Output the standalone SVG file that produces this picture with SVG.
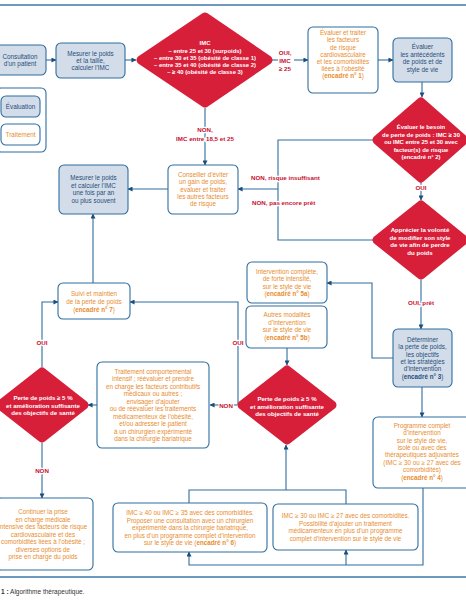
<svg xmlns="http://www.w3.org/2000/svg" width="466" height="600" viewBox="0 0 466 600">
<defs>
<marker id="ah" viewBox="0 0 6 6" refX="5.5" refY="3" markerWidth="5" markerHeight="5" orient="auto" markerUnits="userSpaceOnUse">
<path d="M0,0 L6,3 L0,6 z" fill="#1d4f7c"/>
</marker>
<style>
.box{fill:#fff;stroke:#2f6d9f;stroke-width:1.1}
.ev{fill:#d3dde9}
.dia{fill:#d71f3a;stroke:#d71f3a;stroke-width:9;stroke-linejoin:round}
text{font-family:"Liberation Sans",Arial,sans-serif;font-size:6.3px;text-anchor:middle}
.tb{fill:#1f4d7a}
.to{fill:#e98c2c}
.tw{fill:#fff;font-weight:bold;font-size:6.1px}
.tw1{font-size:5.9px}
.b{font-weight:bold}
.lbl{fill:#c8102e;font-weight:bold;font-size:6.2px;stroke:#fff;stroke-width:2.5;paint-order:stroke}
.conn{stroke:#2f6d9f;stroke-width:1.1;fill:none}
.arr{marker-end:url(#ah)}
.rule{stroke:#3d77a8;stroke-width:1.4}
</style>
</defs>
<rect width="466" height="600" fill="#fff"/>
<line class="rule" x1="0" y1="5" x2="466" y2="5"/>
<line class="rule" x1="0" y1="577" x2="466" y2="577"/>

<g id="connectors">
<path class="conn arr" d="M46,60 H56"/>
<path class="conn arr" d="M125,60 H136"/>
<path class="conn" d="M272,60 H278"/>
<path class="conn arr" d="M294,60 H308"/>
<path class="conn arr" d="M378,60 H393"/>
<path class="conn arr" d="M422,82 H422 V97"/>
<path class="conn arr" d="M205,108 V165"/>
<path class="conn arr" d="M168,189 H128"/>
<path class="conn" d="M373,140 H278 V240 H373"/>
<path class="conn arr" d="M278,189 H238"/>
<path class="conn arr" d="M421,182 V200"/>
<path class="conn arr" d="M421,280 V329"/>
<path class="conn arr" d="M393,358 H372 V283 H327"/>
<path class="conn arr" d="M287,348 V365"/>
<path class="conn arr" d="M237,405 H210"/>
<path class="conn arr" d="M238,405 V302 H130"/>
<path class="conn arr" d="M93,283 V214"/>
<path class="conn arr" d="M97,405 H88"/>
<path class="conn arr" d="M42,367 V302 H58"/>
<path class="conn arr" d="M42,443 V498"/>
<path class="conn arr" d="M422,387 V417"/>
<path class="conn arr" d="M423,488 V565 H189 V552"/>
<path class="conn arr" d="M346,565 V550"/>
<path class="conn" d="M189,503 V490 H346 V504"/>
<path class="conn arr" d="M286,490 V445"/>
<text class="lbl" x="285" y="55">OUI,</text>
<text class="lbl" x="285" y="62.5">IMC</text>
<text class="lbl" x="285" y="71">≥ 25</text>
<text class="lbl" x="205" y="132">NON,</text>
<text class="lbl" x="205" y="140.5">IMC entre 18,5 et 25</text>
<text class="lbl" x="251" y="180" style="text-anchor:start">NON, risque insuffisant</text>
<text class="lbl" x="252" y="205" style="text-anchor:start">NON, pas encore prêt</text>
<text class="lbl" x="421" y="189.5">OUI</text>
<text class="lbl" x="421" y="305">OUI, prêt</text>
<text class="lbl" x="226" y="408">NON</text>
<text class="lbl" x="238" y="345">OUI</text>
<text class="lbl" x="42" y="345">OUI</text>
<text class="lbl" x="42" y="473">NON</text>
</g>

<g id="legend">
<rect class="box" x="-4" y="88" width="50" height="64" rx="5"/>
<rect class="box ev" x="1" y="96" width="39" height="21" rx="5"/>
<text class="tb" x="20.5" y="108.5">Évaluation</text>
<rect class="box" x="1" y="124" width="39" height="21" rx="5"/>
<text class="to" x="20.5" y="136.5">Traitement</text>
</g>

<g id="n-consultation">
<rect class="box ev" x="-6" y="45" width="52" height="30" rx="5"/>
<text class="tb" x="20" y="59">Consultation</text>
<text class="tb" x="20" y="66">d’un patient</text>
</g>

<g id="n-mesurer1">
<rect class="box ev" x="56" y="43" width="69" height="35" rx="5"/>
<text class="tb" x="90.5" y="55.5">Mesurer le poids</text>
<text class="tb" x="90.5" y="62.5">et la taille,</text>
<text class="tb" x="90.5" y="70">calculer l’IMC</text>
</g>

<g id="d-imc">
<polygon class="dia" points="205,17 268,60 205,103 141,60"/>
<text class="tw tw1" x="205" y="45">IMC</text>
<text class="tw tw1" x="205" y="53">– entre 25 et 30 (surpoids)</text>
<text class="tw tw1" x="205" y="60">– entre 30 et 35 (obésité de classe 1)</text>
<text class="tw tw1" x="205" y="67">– entre 35 et 40 (obésité de classe 2)</text>
<text class="tw tw1" x="205" y="74">– ≥ 40 (obésité de classe 3)</text>
</g>

<g id="n-evaluer-traiter">
<rect class="box" x="308" y="27" width="70" height="66" rx="5"/>
<text class="to" x="343" y="35.2">Évaluer et traiter</text>
<text class="to" x="343" y="42.4">les facteurs</text>
<text class="to" x="343" y="49.6">de risque</text>
<text class="to" x="343" y="56.8">cardiovasculaire</text>
<text class="to" x="343" y="64">et les comorbidités</text>
<text class="to" x="343" y="71.2">liées à l’obésité</text>
<text class="to" x="343" y="78.4">(<tspan class="b">encadré n° 1</tspan>)</text>
</g>

<g id="n-antecedents">
<rect class="box ev" x="393" y="38" width="59" height="44" rx="5"/>
<text class="tb" x="422.5" y="49">Évaluer</text>
<text class="tb" x="422.5" y="56.5">les antécédents</text>
<text class="tb" x="422.5" y="64">de poids et de</text>
<text class="tb" x="422.5" y="71.5">style de vie</text>
</g>

<g id="d-besoin">
<polygon class="dia" points="421,102 464,140 421,178 377,140"/>
<text class="tw tw1" x="421" y="129">Évaluer le besoin</text>
<text class="tw tw1" x="421" y="136.5">de perte de poids : IMC ≥ 30</text>
<text class="tw tw1" x="421" y="144">ou IMC entre 25 et 30 avec</text>
<text class="tw tw1" x="421" y="151.5">facteur(s) de risque</text>
<text class="tw tw1" x="421" y="159">(encadré n° 2)</text>
</g>

<g id="d-volonte">
<polygon class="dia" points="421,205 464,240 421,275 377,240"/>
<text class="tw" x="420" y="232">Apprécier la volonté</text>
<text class="tw" x="420" y="239.5">de modifier son style</text>
<text class="tw" x="420" y="247">de vie afin de perdre</text>
<text class="tw" x="420" y="254.5">du poids</text>
</g>

<g id="n-determiner">
<rect class="box ev" x="393" y="329" width="59" height="58" rx="5"/>
<text class="tb" x="422.5" y="342">Déterminer</text>
<text class="tb" x="422.5" y="349.3">la perte de poids,</text>
<text class="tb" x="422.5" y="356.6">les objectifs</text>
<text class="tb" x="422.5" y="363.9">et les stratégies</text>
<text class="tb" x="422.5" y="371.2">d’intervention</text>
<text class="tb" x="422.5" y="378.5">(<tspan class="b">encadré n° 3</tspan>)</text>
</g>

<g id="n-intervention-5a">
<rect class="box" x="247" y="262" width="80" height="41" rx="5"/>
<text class="to" x="287" y="274">Intervention complète,</text>
<text class="to" x="287" y="281.3">de forte intensité,</text>
<text class="to" x="287" y="288.6">sur le style de vie</text>
<text class="to" x="287" y="296">(<tspan class="b">encadré n° 5a</tspan>)</text>
</g>

<g id="n-autres-5b">
<rect class="box" x="246" y="306" width="81" height="42" rx="5"/>
<text class="to" x="287" y="317">Autres modalités</text>
<text class="to" x="287" y="324.5">d’intervention</text>
<text class="to" x="287" y="332">sur le style de vie</text>
<text class="to" x="287" y="339.5">(<tspan class="b">encadré n° 5b</tspan>)</text>
</g>

<g id="d-perte-droite">
<polygon class="dia" points="287,370 332,405 287,440 242,405"/>
<text class="tw" x="287" y="401">Perte de poids ≥ 5 %</text>
<text class="tw" x="287" y="408.5">et amélioration suffisante</text>
<text class="tw" x="287" y="416">des objectifs de santé</text>
</g>

<g id="n-traitement">
<rect class="box" x="97" y="362" width="112" height="86" rx="5"/>
<text class="to" x="153" y="374">Traitement comportemental</text>
<text class="to" x="153" y="381.45">intensif ; réévaluer et prendre</text>
<text class="to" x="153" y="388.9">en charge les facteurs contributifs</text>
<text class="to" x="153" y="396.35">médicaux ou autres ;</text>
<text class="to" x="153" y="403.8">envisager d’ajouter</text>
<text class="to" x="153" y="411.25">ou de réévaluer les traitements</text>
<text class="to" x="153" y="418.7">médicamenteux de l’obésité,</text>
<text class="to" x="153" y="426.15">et/ou adresser le patient</text>
<text class="to" x="153" y="433.6">à un chirurgien expérimenté</text>
<text class="to" x="153" y="441.05">dans la chirurgie bariatrique</text>
</g>

<g id="d-perte-gauche">
<polygon class="dia" points="42,372 84,405 42,438 0,405"/>
<text class="tw" x="43" y="400">Perte de poids ≥ 5 %</text>
<text class="tw" x="43" y="407.5">et amélioration suffisante</text>
<text class="tw" x="43" y="415">des objectifs de santé</text>
</g>

<g id="n-suivi">
<rect class="box" x="58" y="283" width="72" height="36" rx="5"/>
<text class="to" x="94" y="296">Suivi et maintien</text>
<text class="to" x="94" y="304">de la perte de poids</text>
<text class="to" x="94" y="312">(<tspan class="b">encadré n° 7</tspan>)</text>
</g>

<g id="n-mesurer2">
<rect class="box ev" x="59" y="165" width="69" height="49" rx="5"/>
<text class="tb" x="93.5" y="180">Mesurer le poids</text>
<text class="tb" x="93.5" y="187.5">et calculer l’IMC</text>
<text class="tb" x="93.5" y="195">une fois par an</text>
<text class="tb" x="93.5" y="202.5">ou plus souvent</text>
</g>

<g id="n-conseiller">
<rect class="box" x="168" y="165" width="70" height="49" rx="5"/>
<text class="to" x="203" y="177">Conseiller d’éviter</text>
<text class="to" x="203" y="184.3">un gain de poids,</text>
<text class="to" x="203" y="191.6">évaluer et traiter</text>
<text class="to" x="203" y="198.9">les autres facteurs</text>
<text class="to" x="203" y="206.2">de risque</text>
</g>

<g id="n-continuer">
<rect class="box" x="-4" y="498" width="97" height="72" rx="5"/>
<text class="to" x="43" y="514">Continuer la prise</text>
<text class="to" x="43" y="521.5">en charge médicale</text>
<text class="to" x="43" y="529">intensive des facteurs de risque</text>
<text class="to" x="43" y="536.5">cardiovasculaire et des</text>
<text class="to" x="43" y="544">comorbidités liées à l’obésité ;</text>
<text class="to" x="43" y="551.5">diverses options de</text>
<text class="to" x="43" y="559">prise en charge du poids</text>
</g>

<g id="n-programme">
<rect class="box" x="373" y="417" width="100" height="71" rx="5"/>
<text class="to" x="422" y="428">Programme complet</text>
<text class="to" x="422" y="435.3">d’intervention</text>
<text class="to" x="422" y="442.6">sur le style de vie,</text>
<text class="to" x="422" y="449.9">isolé ou avec des</text>
<text class="to" x="422" y="457.2">thérapeutiques adjuvantes</text>
<text class="to" x="422" y="464.5">(IMC ≥ 30 ou ≥ 27 avec des</text>
<text class="to" x="422" y="471.8">comorbidités)</text>
<text class="to" x="422" y="479.5">(<tspan class="b">encadré n° 4</tspan>)</text>
</g>

<g id="n-imc40">
<rect class="box" x="113" y="503" width="154" height="49" rx="5"/>
<text class="to" x="190" y="515">IMC ≥ 40 ou IMC ≥ 35 avec des comorbidités.</text>
<text class="to" x="190" y="522.5">Proposer une consultation avec un chirurgien</text>
<text class="to" x="190" y="530">expérimenté dans la chirurgie bariatrique,</text>
<text class="to" x="190" y="537.5">en plus d’un programme complet d’intervention</text>
<text class="to" x="190" y="545">sur le style de vie (<tspan class="b">encadré n° 6</tspan>)</text>
</g>

<g id="n-imc30">
<rect class="box" x="273" y="504" width="145" height="46" rx="5"/>
<text class="to" x="345.5" y="518">IMC ≥ 30 ou IMC ≥ 27 avec des comorbidités.</text>
<text class="to" x="345.5" y="525.5">Possibilité d’ajouter un traitement</text>
<text class="to" x="345.5" y="533">médicamenteux en plus d’un programme</text>
<text class="to" x="345.5" y="540.5">complet d’intervention sur le style de vie</text>
</g>

<text x="1" y="594" style="text-anchor:start;fill:#333;font-size:6.5px"><tspan class="b">1 :</tspan> Algorithme thérapeutique.</text>
</svg>
